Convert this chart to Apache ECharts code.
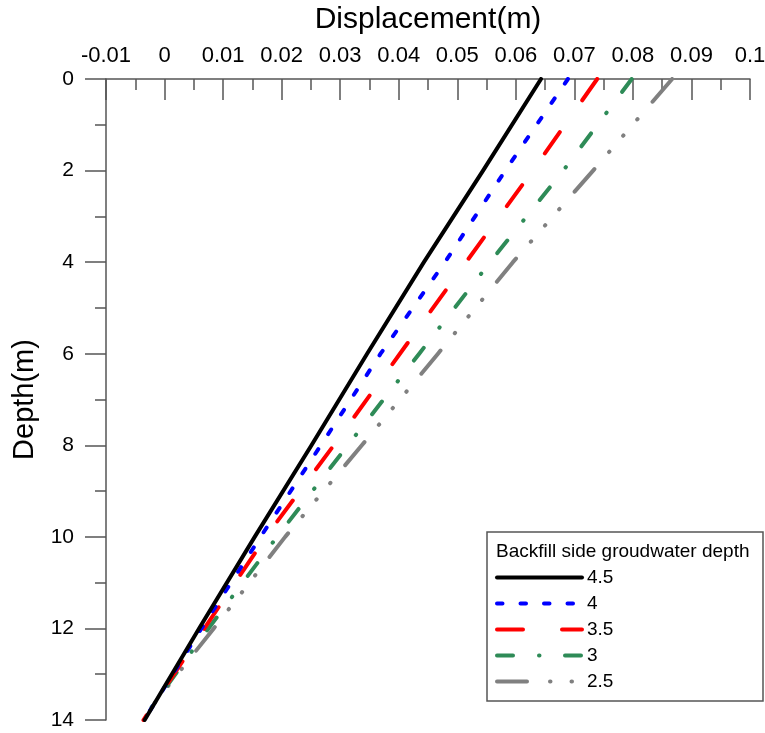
<!DOCTYPE html>
<html>
<head>
<meta charset="utf-8">
<script src="https://cdn.jsdelivr.net/npm/echarts@6/dist/echarts.min.js"></script>
<style>
html,body{margin:0;padding:0;background:#fff;}
#chart{width:765px;height:733px;}
</style>
</head>
<body>
<div id="chart"></div>
<script>
// Depth (m) at which displacement was read
const depths = [0, 2, 4, 6, 8, 10, 12, 14];
// Displacement (m) for each backfill-side groundwater depth
const disp45 = [0.0643, 0.0544, 0.0443, 0.0346, 0.0251, 0.0154, 0.0059, -0.0034];
const disp40 = [0.0689, 0.0582, 0.0479, 0.0369, 0.0267, 0.0164, 0.0063, -0.0035];
const disp35 = [0.0739, 0.0629, 0.0515, 0.0402, 0.0289, 0.0173, 0.0068, -0.0036];
const disp30 = [0.0798, 0.0681, 0.0556, 0.0435, 0.0313, 0.0192, 0.0075, -0.0038];
const disp25 = [0.0867, 0.0732, 0.0595, 0.0467, 0.0337, 0.0206, 0.0084, -0.0040];
const seriesNames = ['4.5', '4', '3.5', '3', '2.5'];
const xTicksInfo = { min: -0.01, max: 0.1, interval: 0.01 };
const yTicksInfo = { min: 0, max: 14, interval: 2 };

const FONT = "'Liberation Sans', Arial, sans-serif";

function pairs(vals) {
  return depths.map((d, i) => [vals[i], d]);
}

const styles = [
  { color: '#000000', type: 'solid', z: 7 },
  { color: '#0000ff', type: [5.5, 18], z: 6 },
  { color: '#ff0000', type: [26, 39], z: 5 },
  { color: '#2e8b57', type: [16, 26, 0.5, 25.5], z: 4 },
  { color: '#808080', type: [30, 23, 0.5, 21, 0.5, 21, 0.5, 22.5], z: 3 }
];
const allVals = [disp45, disp40, disp35, disp30, disp25];

const series = seriesNames.map((name, i) => ({
  name: name,
  type: 'line',
  data: pairs(allVals[i]),
  symbol: 'none',
  z: styles[i].z,
  lineStyle: {
    color: styles[i].color,
    width: 4,
    type: styles[i].type,
    cap: 'round',
    join: 'round'
  },
  itemStyle: { color: styles[i].color },
  emphasis: { disabled: true },
  animation: false
}));

const chart = echarts.init(document.getElementById('chart'), null, { renderer: 'canvas' });
chart.setOption({
  backgroundColor: '#ffffff',
  animation: false,
  grid: { left: 106, top: 79, width: 644, height: 641, containLabel: false, outerBoundsMode: 'none' },
  xAxis: {
    type: 'value',
    position: 'top',
    min: xTicksInfo.min,
    max: xTicksInfo.max,
    interval: xTicksInfo.interval,
    name: 'Displacement(m)',
    nameLocation: 'middle',
    nameGap: 44,
    nameTextStyle: { fontFamily: FONT, fontSize: 30, color: '#000' },
    axisLine: { show: true, onZero: false, lineStyle: { color: '#555', width: 1.5 } },
    axisTick: { show: true, inside: true, length: 21, lineStyle: { color: '#555', width: 1.5 } },
    minorTick: { show: true, splitNumber: 2, length: 11, lineStyle: { color: '#555', width: 1.5 } },
    axisLabel: { fontFamily: FONT, fontSize: 22, color: '#000', margin: 12, showMinLabel: true, showMaxLabel: true, hideOverlap: false },
    splitLine: { show: false }
  },
  yAxis: {
    type: 'value',
    inverse: true,
    min: yTicksInfo.min,
    max: yTicksInfo.max,
    interval: yTicksInfo.interval,
    name: 'Depth(m)',
    nameLocation: 'middle',
    nameGap: 63,
    nameTextStyle: { fontFamily: FONT, fontSize: 29, color: '#000' },
    axisLine: { show: true, onZero: false, lineStyle: { color: '#555', width: 1.5 } },
    axisTick: { show: true, inside: false, length: 21, lineStyle: { color: '#555', width: 1.5 } },
    minorTick: { show: true, splitNumber: 2, length: 11, lineStyle: { color: '#555', width: 1.5 } },
    axisLabel: { fontFamily: FONT, fontSize: 21, color: '#000', margin: 32, showMinLabel: true, showMaxLabel: true },
    splitLine: { show: false }
  },
  legend: {
    orient: 'vertical',
    left: 495,
    top: 568,
    padding: 0,
    itemWidth: 85,
    itemHeight: 14,
    itemGap: 7,
    selectedMode: false,
    data: seriesNames,
    itemStyle: { opacity: 0, borderWidth: 0 },
    lineStyle: { width: 4, cap: 'round' },
    textStyle: { fontFamily: FONT, fontSize: 19, color: '#000' }
  },
  graphic: [
    {
      type: 'rect',
      z: 3,
      shape: { x: 487, y: 532, width: 276, height: 169 },
      style: { fill: '#ffffff', stroke: '#555', lineWidth: 1.5 }
    },
    {
      type: 'text',
      z: 4,
      x: 496,
      y: 552,
      style: {
        text: 'Backfill side groudwater depth',
        font: "19px 'Liberation Sans', Arial, sans-serif",
        fill: '#000',
        verticalAlign: 'middle',
        align: 'left'
      }
    }
  ],
  series: series
});
</script>
</body>
</html>
